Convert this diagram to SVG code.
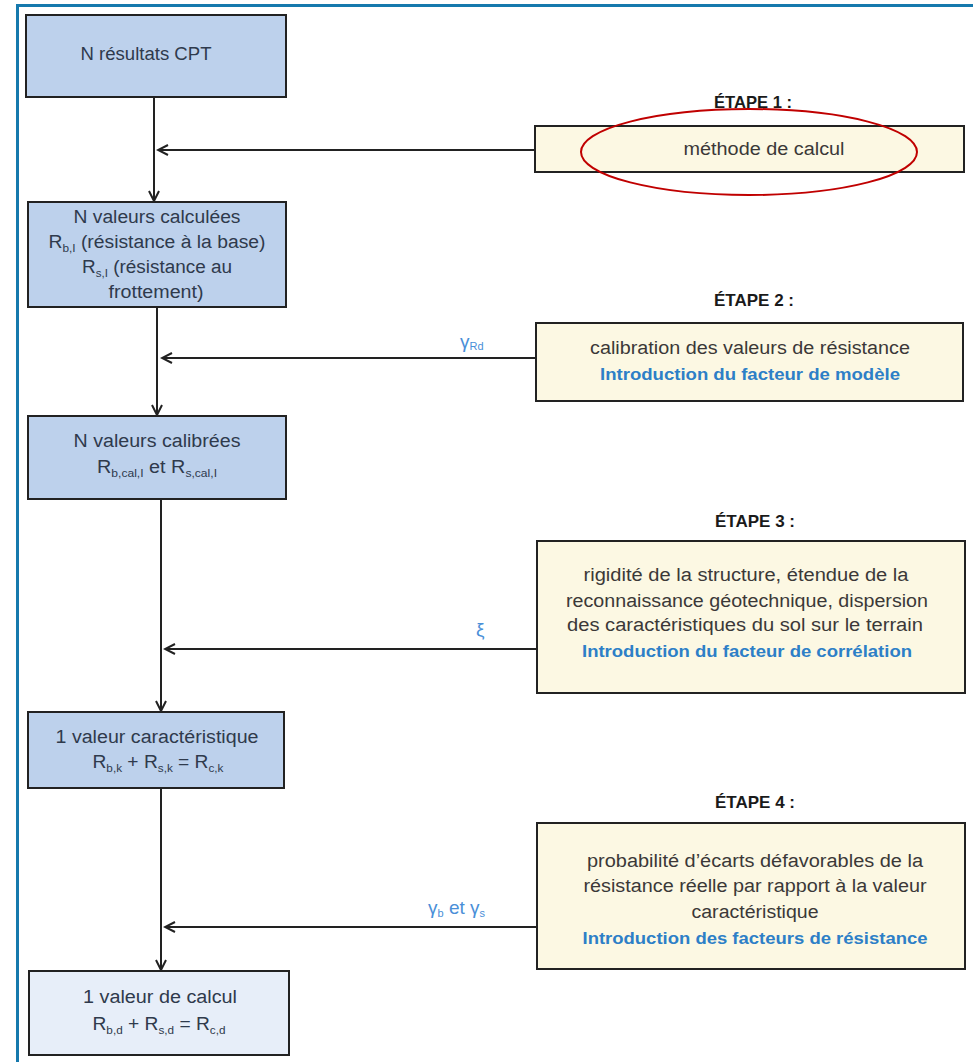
<svg xmlns="http://www.w3.org/2000/svg" width="973" height="1062" viewBox="0 0 973 1062">
  <style>
    .box-main { fill: #bdd1ec; stroke: #222; stroke-width: 2; }
    .box-final { fill: #e7eef9; stroke: #222; stroke-width: 2; }
    .box-step { fill: #fcf8e3; stroke: #222; stroke-width: 2; }
    .conn { stroke: #222; stroke-width: 2; fill: none; }
    text { font-family: "Liberation Sans", Arial, sans-serif; }
    .t-main { font-size: 18px; fill: #2f3a4c; text-anchor: middle; }
    .t-step { font-size: 18px; fill: #3b3838; text-anchor: middle; }
    .t-blue { font-size: 17px; font-weight: bold; fill: #2d7fc7; text-anchor: middle; }
    .t-title { font-size: 17px; font-weight: bold; fill: #1a1a1a; text-anchor: middle; }
    .t-lbl { font-size: 19px; fill: #4a8fd8; }
    .sub { font-size: 11px; }
  </style>
  <defs>
    <marker id="chev" viewBox="-12 -7 14 14" markerWidth="14" markerHeight="14" refX="0" refY="0" orient="auto" markerUnits="userSpaceOnUse">
      <path d="M-10,-5 L0,0 L-10,5" fill="none" stroke="#222" stroke-width="2"/>
    </marker>
  </defs>

  <rect width="973" height="1062" fill="#ffffff"/>

  <!-- outer frame -->
  <path d="M17.5,1062 L17.5,5.5 L973,5.5" fill="none" stroke="#1679ad" stroke-width="3"/>

  <!-- connectors -->
  <g id="connectors">
    <line class="conn" x1="154" y1="97" x2="154" y2="201" marker-end="url(#chev)"/>
    <line class="conn" x1="157" y1="307" x2="157" y2="415" marker-end="url(#chev)"/>
    <line class="conn" x1="161" y1="499" x2="161" y2="711" marker-end="url(#chev)"/>
    <line class="conn" x1="161" y1="788" x2="161" y2="970" marker-end="url(#chev)"/>
    <line class="conn" x1="535" y1="150" x2="158" y2="150" marker-end="url(#chev)"/>
    <line class="conn" x1="536" y1="358" x2="162" y2="358" marker-end="url(#chev)"/>
    <line class="conn" x1="537" y1="649" x2="165" y2="649" marker-end="url(#chev)"/>
    <line class="conn" x1="537" y1="927" x2="165" y2="927" marker-end="url(#chev)"/>
    <text class="t-lbl" x="460" y="348">γ<tspan class="sub" dy="2">Rd</tspan></text>
    <text class="t-lbl" x="476" y="636">ξ</text>
    <text class="t-lbl" x="428" y="914">γ<tspan class="sub" dy="3">b</tspan><tspan dy="-3"> et γ</tspan><tspan class="sub" dy="3">s</tspan></text>
  </g>

  <!-- flow of values -->
  <g id="n-resultats">
    <rect class="box-main" x="26" y="15" width="260" height="82"/>
    <text class="t-main" x="146" y="60" textLength="131" lengthAdjust="spacingAndGlyphs">N résultats CPT</text>
  </g>

  <g id="n-calculees">
    <rect class="box-main" x="28" y="202" width="258" height="105"/>
    <text class="t-main" x="157" y="223" textLength="167" lengthAdjust="spacingAndGlyphs">N valeurs calculées</text>
    <text class="t-main" x="157" y="248" textLength="217" lengthAdjust="spacingAndGlyphs">R<tspan class="sub" dy="4">b,I</tspan><tspan dy="-4"> (résistance à la base)</tspan></text>
    <text class="t-main" x="157" y="273" textLength="150" lengthAdjust="spacingAndGlyphs">R<tspan class="sub" dy="4">s,I</tspan><tspan dy="-4"> (résistance au</tspan></text>
    <text class="t-main" x="156" y="298" textLength="95" lengthAdjust="spacingAndGlyphs">frottement)</text>
  </g>

  <g id="n-calibrees">
    <rect class="box-main" x="28" y="416" width="258" height="83"/>
    <text class="t-main" x="157" y="447" textLength="167" lengthAdjust="spacingAndGlyphs">N valeurs calibrées</text>
    <text class="t-main" x="157" y="473" textLength="120" lengthAdjust="spacingAndGlyphs">R<tspan class="sub" dy="4">b,cal,I</tspan><tspan dy="-4"> et R</tspan><tspan class="sub" dy="4">s,cal,I</tspan></text>
  </g>

  <g id="caracteristique">
    <rect class="box-main" x="28" y="712" width="256" height="76"/>
    <text class="t-main" x="157" y="743" textLength="203" lengthAdjust="spacingAndGlyphs">1 valeur caractéristique</text>
    <text class="t-main" x="158" y="768" textLength="131" lengthAdjust="spacingAndGlyphs">R<tspan class="sub" dy="4">b,k</tspan><tspan dy="-4"> + R</tspan><tspan class="sub" dy="4">s,k</tspan><tspan dy="-4"> = R</tspan><tspan class="sub" dy="4">c,k</tspan></text>
  </g>

  <g id="calcul">
    <rect class="box-final" x="29" y="971" width="260" height="84"/>
    <text class="t-main" x="160" y="1003" textLength="154" lengthAdjust="spacingAndGlyphs">1 valeur de calcul</text>
    <text class="t-main" x="159" y="1030" textLength="133" lengthAdjust="spacingAndGlyphs">R<tspan class="sub" dy="4">b,d</tspan><tspan dy="-4"> + R</tspan><tspan class="sub" dy="4">s,d</tspan><tspan dy="-4"> = R</tspan><tspan class="sub" dy="4">c,d</tspan></text>
  </g>

  <!-- steps -->
  <g id="etape-1">
    <text class="t-title" x="753" y="108" textLength="78" lengthAdjust="spacingAndGlyphs">ÉTAPE 1 :</text>
    <rect class="box-step" x="535" y="126" width="429" height="46"/>
    <text class="t-step" x="764" y="155" textLength="161" lengthAdjust="spacingAndGlyphs">méthode de calcul</text>
    <ellipse cx="749" cy="152" rx="168" ry="43" fill="none" stroke="#c00000" stroke-width="2"/>
  </g>

  <g id="etape-2">
    <text class="t-title" x="754" y="306" textLength="80" lengthAdjust="spacingAndGlyphs">ÉTAPE 2 :</text>
    <rect class="box-step" x="536" y="323" width="427" height="78"/>
    <text class="t-step" x="750" y="354" textLength="320" lengthAdjust="spacingAndGlyphs">calibration des valeurs de résistance</text>
    <text class="t-blue" x="750" y="380" textLength="300" lengthAdjust="spacingAndGlyphs">Introduction du facteur de modèle</text>
  </g>

  <g id="etape-3">
    <text class="t-title" x="755" y="527" textLength="80" lengthAdjust="spacingAndGlyphs">ÉTAPE 3 :</text>
    <rect class="box-step" x="537" y="541" width="428" height="152"/>
    <text class="t-step" x="746" y="581" textLength="325" lengthAdjust="spacingAndGlyphs">rigidité de la structure, étendue de la</text>
    <text class="t-step" x="747" y="607" textLength="362" lengthAdjust="spacingAndGlyphs">reconnaissance géotechnique, dispersion</text>
    <text class="t-step" x="745" y="631" textLength="356" lengthAdjust="spacingAndGlyphs">des caractéristiques du sol sur le terrain</text>
    <text class="t-blue" x="747" y="657" textLength="330" lengthAdjust="spacingAndGlyphs">Introduction du facteur de corrélation</text>
  </g>

  <g id="etape-4">
    <text class="t-title" x="755" y="808" textLength="80" lengthAdjust="spacingAndGlyphs">ÉTAPE 4 :</text>
    <rect class="box-step" x="537" y="823" width="428" height="146"/>
    <text class="t-step" x="755" y="867" textLength="336" lengthAdjust="spacingAndGlyphs">probabilité d’écarts défavorables de la</text>
    <text class="t-step" x="755" y="892" textLength="343" lengthAdjust="spacingAndGlyphs">résistance réelle par rapport à la valeur</text>
    <text class="t-step" x="755" y="918" textLength="127" lengthAdjust="spacingAndGlyphs">caractéristique</text>
    <text class="t-blue" x="755" y="944" textLength="345" lengthAdjust="spacingAndGlyphs">Introduction des facteurs de résistance</text>
  </g>
</svg>
